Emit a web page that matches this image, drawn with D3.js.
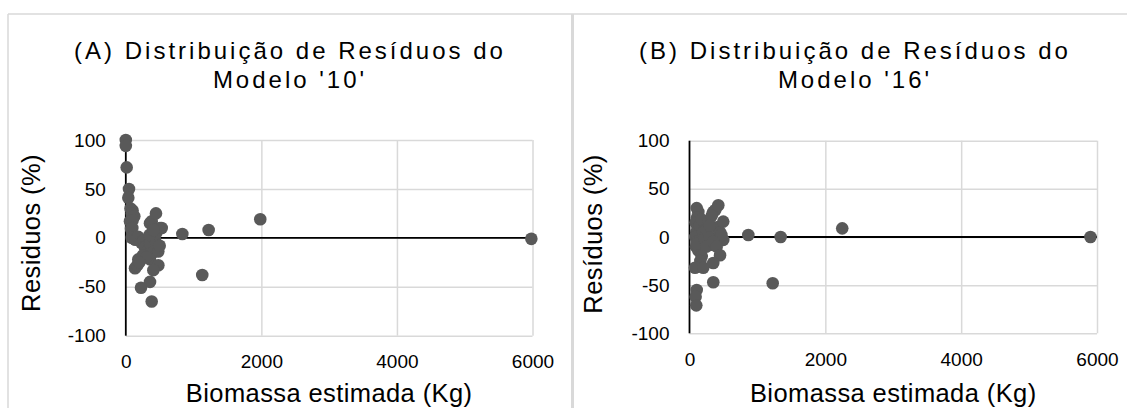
<!DOCTYPE html>
<html>
<head>
<meta charset="utf-8">
<script src="https://cdn.jsdelivr.net/npm/d3@7"></script>
<style>
  body { margin: 0; background: #fff; }
  svg { display: block; }
  text { font-family: "Liberation Sans", Arial, sans-serif; fill: #000; }
</style>
</head>
<body>
<svg id="chart" width="1127" height="408"></svg>
<script>
// tick values shared by both panels
const xTicks = [0, 2000, 4000, 6000];
const yTicks = [-100, -50, 0, 50, 100];

const titleA = ["(A) Distribuição de Resíduos do", "Modelo '10'"];
const titleB = ["(B) Distribuição de Resíduos do", "Modelo '16'"];
const xLabel = "Biomassa estimada (Kg)";
const yLabelA = "Residuos (%)";
const yLabelB = "Resíduos (%)";

// panel A: modelo 10 (biomassa estimada, residuo %)
const biomassaA = [0, 0, 13, 47, 37, 70, 100, 87, 125, 62, 100, 77, 96, 87, 140, 184, 230, 260, 300, 283,
  330, 360, 400, 430, 450, 479, 500, 184, 250, 357, 300, 136, 170, 200, 480, 406, 357, 224, 382, 357,
  382, 445, 505, 530, 350, 410, 834, 1222, 1984, 1128, 5983];
const residuosA = [100, 94, 72, 50, 41, 30, 28, 25, 22, 17, 18, 9, 10, 0, -2, 1, -5, -3, -8, -10,
  -12, -6, -15, -2, 5, -14, -8, -22, -18, -22, -20, -31, -28, -25, -28, -33, -45, -51, -65, 15,
  17, 25, 10, 10, 3, 8, 4, 8, 19, -38, -1];

// panel B: modelo 16
const biomassaB = [106, 130, 110, 90, 120, 100, 85, 110, 95, 130, 106, 150, 180, 200, 220, 250, 280, 300, 320, 350,
  424, 380, 327, 400, 450, 497, 497, 470, 250, 300, 350, 400, 180, 160, 450, 350, 81, 203, 350, 106,
  90, 100, 866, 1342, 2249, 1225, 5904];
const residuosB = [30, 26, 20, 15, 10, 5, 0, -5, -10, -14, -7, 12, 18, 5, -2, 8, 15, 0, -8, 26,
  33, 28, 22, 10, 5, 16, -3, 2, -10, 12, -5, -10, -20, -25, -19, -27, -32, -32, -47, -55,
  -62, -71, 2, 0, 9, -48, 0];

const svg = d3.select("#chart");
const gridColor = "#d9d9d9";
const dotColor = "#595959";
const plain = d => String(d);   // "2000", "-100" like the original

// outer chart borders
svg.append("line").attr("x1", 8).attr("x2", 1127).attr("y1", 14).attr("y2", 14)
  .attr("stroke", gridColor).attr("stroke-width", 1.5);
svg.append("line").attr("x1", 8).attr("x2", 8).attr("y1", 14).attr("y2", 408)
  .attr("stroke", gridColor).attr("stroke-width", 1.5);
svg.append("line").attr("x1", 572.5).attr("x2", 572.5).attr("y1", 14).attr("y2", 408)
  .attr("stroke", gridColor).attr("stroke-width", 3);

const panels = [
  { title: titleA, ylab: yLabelA, xs: biomassaA, ys: residuosA,
    left: 125.8, right: 532.5, top: 140, bottom: 335.7, cx: 290, ylabX: 40, ylabY: 233 },
  { title: titleB, ylab: yLabelB, xs: biomassaB, ys: residuosB,
    left: 689.5, right: 1097, top: 140.7, bottom: 333.3, cx: 855, ylabX: 602, ylabY: 234 }
];

panels.forEach(p => {
  const x = d3.scaleLinear().domain([0, 6000]).range([p.left, p.right]);
  const y = d3.scaleLinear().domain([-100, 100]).range([p.bottom, p.top]);
  const g = svg.append("g");

  // gridlines
  const gx = g.append("g").attr("transform", "translate(0," + p.bottom + ")")
    .call(d3.axisBottom(x).tickValues(xTicks.slice(1)).tickSize(-(p.bottom - p.top)).tickFormat(""));
  const gy = g.append("g").attr("transform", "translate(" + p.left + ",0)")
    .call(d3.axisLeft(y).tickValues(yTicks).tickSize(-(p.right - p.left)).tickFormat(""));
  [gx, gy].forEach(a => {
    a.select(".domain").remove();
    a.selectAll("line").attr("stroke", gridColor).attr("stroke-width", 1.5);
  });

  // tick labels
  const ax = g.append("g").attr("transform", "translate(0," + p.bottom + ")")
    .call(d3.axisBottom(x).tickValues(xTicks).tickFormat(plain).tickSize(0).tickPadding(18.8));
  const ay = g.append("g").attr("transform", "translate(" + p.left + ",0)")
    .call(d3.axisLeft(y).tickValues(yTicks).tickFormat(plain).tickSize(0).tickPadding(20));
  [ax, ay].forEach(a => {
    a.select(".domain").remove();
    a.selectAll("text").attr("fill", "#000")
      .style("font-size", "19px").style("font-family", "'Liberation Sans', Arial, sans-serif");
  });

  // axis lines
  g.append("line").attr("x1", x(0)).attr("x2", x(6000)).attr("y1", y(0)).attr("y2", y(0))
    .attr("stroke", "#000").attr("stroke-width", 1.8);
  g.append("line").attr("x1", x(0)).attr("x2", x(0)).attr("y1", y(100)).attr("y2", y(-100))
    .attr("stroke", "#000").attr("stroke-width", 1.8);

  // points
  g.append("g").selectAll("circle")
    .data(p.xs.map((v, i) => [v, p.ys[i]]))
    .join("circle")
    .attr("cx", d => x(d[0]))
    .attr("cy", d => y(d[1]))
    .attr("r", 6.3)
    .attr("fill", dotColor);

  // title
  g.append("text").attr("x", p.cx).attr("y", 59.3).attr("text-anchor", "middle")
    .style("font-size", "24px").style("letter-spacing", "3px").text(p.title[0]);
  g.append("text").attr("x", p.cx).attr("y", 88.3).attr("text-anchor", "middle")
    .style("font-size", "24px").style("letter-spacing", "3px").text(p.title[1]);

  // axis titles
  g.append("text").attr("x", (p.left + p.right) / 2).attr("y", 402).attr("text-anchor", "middle")
    .style("font-size", "25.5px").style("letter-spacing", "0.4px").text(xLabel);
  g.append("text").attr("transform", "translate(" + p.ylabX + "," + p.ylabY + ") rotate(-90)")
    .attr("text-anchor", "middle")
    .style("font-size", "25.5px").style("letter-spacing", "0.4px").text(p.ylab);
});
</script>
</body>
</html>
